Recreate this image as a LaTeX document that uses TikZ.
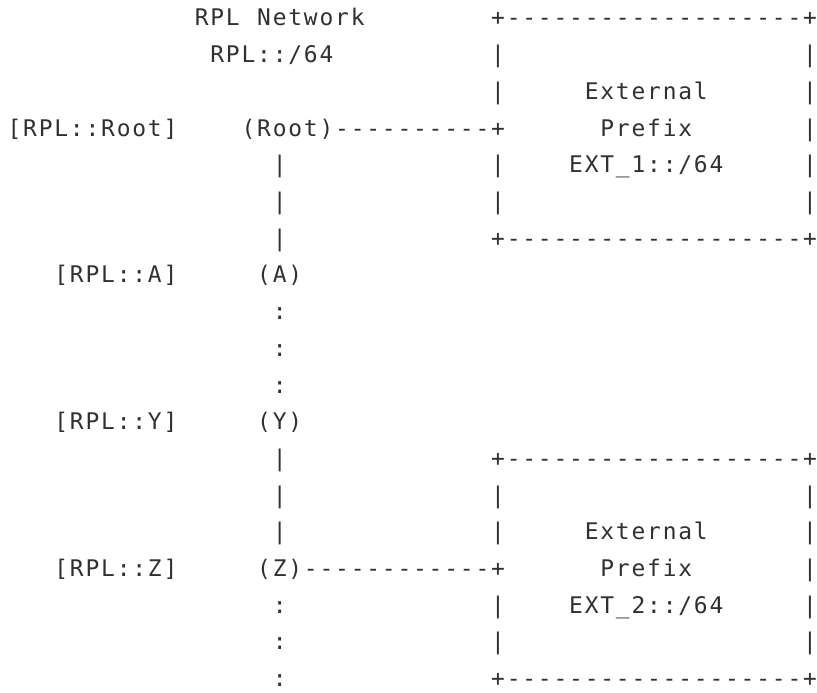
\documentclass[tikz,border=0pt]{standalone}
\usepackage{fontspec}
\newfontfamily\asciifont[LetterSpace=7.9]{DejaVu Sans Mono}
\definecolor{ink}{HTML}{303030}
\tikzset{
  txt/.style={anchor=base west, inner sep=0pt, outer sep=0pt, text=ink,
    font=\asciifont\fontsize{22.9}{36.7}\selectfont},
}
% column -> x, row -> baseline y (pt, measured from top)
\newcommand{\colx}[1]{\fpeval{7.6+15.6*#1}}
\newcommand{\rowy}[1]{\fpeval{-(26.0+36.7*(#1-1))}}
\newcommand{\cell}[4]{\node[txt] (#1) at (\colx{#2}pt,\rowy{#3}pt) {#4};}
\begin{document}
\begin{tikzpicture}[x=1pt,y=1pt]
\useasboundingbox (0,0) rectangle (817,-693);
% row 1
\cell{t1}{12}{1}{RPL}
\cell{t2}{16}{1}{Network}
\cell{b1top}{31}{1}{+-------------------+}
% row 2
\cell{t3}{13}{2}{RPL::/64}
\cell{b1l2}{31}{2}{|}
\cell{b1r2}{51}{2}{|}
% row 3
\cell{b1l3}{31}{3}{|}
\cell{ext1}{37}{3}{External}
\cell{b1r3}{51}{3}{|}
% row 4
\cell{lroot}{0}{4}{[RPL::Root]}
\cell{root}{15}{4}{(Root)----------+}
\cell{pre1}{38}{4}{Prefix}
\cell{b1r4}{51}{4}{|}
% row 5
\cell{v5}{17}{5}{|}
\cell{b1l5}{31}{5}{|}
\cell{pfx1}{36}{5}{EXT\_1::/64}
\cell{b1r5}{51}{5}{|}
% row 6
\cell{v6}{17}{6}{|}
\cell{b1l6}{31}{6}{|}
\cell{b1r6}{51}{6}{|}
% row 7
\cell{v7}{17}{7}{|}
\cell{b1bot}{31}{7}{+-------------------+}
% row 8
\cell{la}{3}{8}{[RPL::A]}
\cell{a}{16}{8}{(A)}
% rows 9-11
\cell{d9}{17}{9}{:}
\cell{d10}{17}{10}{:}
\cell{d11}{17}{11}{:}
% row 12
\cell{ly}{3}{12}{[RPL::Y]}
\cell{y}{16}{12}{(Y)}
% row 13
\cell{v13}{17}{13}{|}
\cell{b2top}{31}{13}{+-------------------+}
% row 14
\cell{v14}{17}{14}{|}
\cell{b2l14}{31}{14}{|}
\cell{b2r14}{51}{14}{|}
% row 15
\cell{v15}{17}{15}{|}
\cell{b2l15}{31}{15}{|}
\cell{ext2}{37}{15}{External}
\cell{b2r15}{51}{15}{|}
% row 16
\cell{lz}{3}{16}{[RPL::Z]}
\cell{z}{16}{16}{(Z)------------+}
\cell{pre2}{38}{16}{Prefix}
\cell{b2r16}{51}{16}{|}
% row 17
\cell{d17}{17}{17}{:}
\cell{b2l17}{31}{17}{|}
\cell{pfx2}{36}{17}{EXT\_2::/64}
\cell{b2r17}{51}{17}{|}
% row 18
\cell{d18}{17}{18}{:}
\cell{b2l18}{31}{18}{|}
\cell{b2r18}{51}{18}{|}
% row 19
\cell{d19}{17}{19}{:}
\cell{b2bot}{31}{19}{+-------------------+}
\end{tikzpicture}
\end{document}
